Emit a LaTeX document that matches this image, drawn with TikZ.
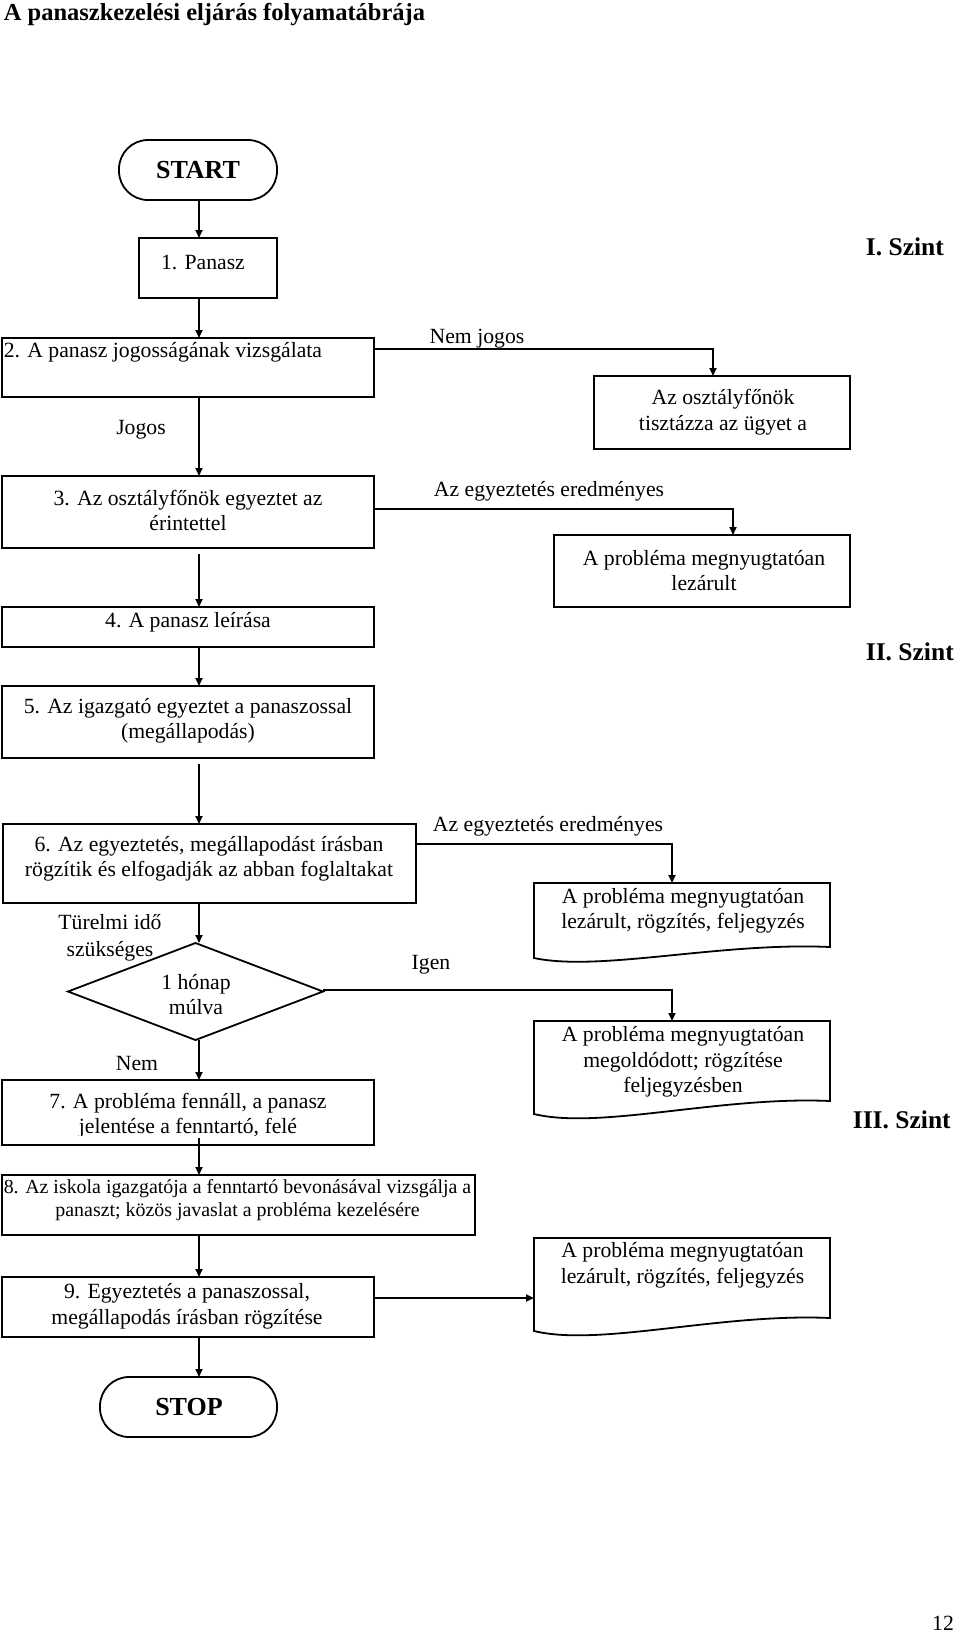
\documentclass[tikz,border=0pt]{standalone}
\usepackage{fontspec}
\setmainfont{Liberation Serif}
\usetikzlibrary{arrows.meta,shapes.geometric}
\newcommand\fsn{\fontsize{21.7}{25.5}\selectfont}
\newcommand\fss{\fontsize{19.9}{23}\selectfont}
\newcommand\fsb{\fontsize{25.5}{30}\selectfont\bfseries}
\newcommand\docshape[2]{\draw (#1.south west) -- (#1.north west) -- (#1.north east) -- ([yshift=#2]#1.south east) .. controls ([shift={(186pt,#2+5pt)}]#1.south west) and ([shift={(66pt,-#2-3pt)}]#1.south west) .. (#1.south west) -- cycle;}
\begin{document}
\begin{tikzpicture}[x=1pt,y=-1pt,line width=1.8pt,
  box/.style={draw,rectangle,inner sep=0pt,outer sep=0pt},
  term/.style={draw,rectangle,rounded corners=29pt,inner sep=0pt,outer sep=0pt},
  ghost/.style={rectangle,inner sep=0pt,outer sep=0pt},
  txt/.style={inner sep=0pt,align=center,font=\fsn},
  lbl/.style={inner sep=0pt,font=\fsn},
  hdr/.style={inner sep=0pt,font=\fsb},
  arr/.style={-{Triangle[length=8pt,width=7pt]},line width=1.8pt}]
\useasboundingbox (0,0) rectangle (960,1634);

% title and levels
\node[hdr,anchor=west,font=\fontsize{24.5}{29}\selectfont\bfseries] (title) at (3,15) {A panaszkezelési eljárás folyamatábrája};
\node[hdr,anchor=west] (sz1) at (865,247) {I. Szint};
\node[hdr,anchor=west] (sz2) at (865,652) {II. Szint};
\node[hdr,anchor=west] (sz3) at (852,1120) {III. Szint};
\node[lbl] (pg) at (943,1623) {12};

% boxes
\node[term,minimum width=158pt,minimum height=60pt] (start) at (198,170) {};
\node[hdr,font=\fontsize{26}{30}\selectfont\bfseries] (tstart) at (198,170) {START};
\node[box,minimum width=138pt,minimum height=60pt] (b1) at (208,268) {};
\node[txt] (t1) at (203,262) {1. Panasz};
\node[box,minimum width=372pt,minimum height=59pt] (b2) at (188,367.5) {};
\node[txt,anchor=west] (t2) at (3,352) {2. A panasz jogosságának vizsgálata};
\node[box,minimum width=256pt,minimum height=73pt] (bA) at (722,412.5) {};
\node[txt] (tA) at (723,412) {Az osztályfőnök\\tisztázza az ügyet a};
\node[box,minimum width=372pt,minimum height=72pt] (b3) at (188,512) {};
\node[txt] (t3) at (188,510.5) {3. Az osztályfőnök egyeztet az\\érintettel};
\node[box,minimum width=296pt,minimum height=72pt] (bB) at (702,571) {};
\node[txt] (tB) at (704,570.5) {A probléma megnyugtatóan\\lezárult};
\node[box,minimum width=372pt,minimum height=40pt] (b4) at (188,627) {};
\node[txt] (t4) at (188,622) {4. A panasz leírása};
\node[box,minimum width=372pt,minimum height=72pt] (b5) at (188,722) {};
\node[txt] (t5) at (188,721) {5. Az igazgató egyeztet a panaszossal\\(megállapodás)};
\node[box,minimum width=413pt,minimum height=79pt] (b6) at (209.5,863.5) {};
\node[txt] (t6) at (209,859) {6. Az egyeztetés, megállapodást írásban\\rögzítik és elfogadják az abban foglaltakat};

\node[ghost,minimum width=296pt,minimum height=75pt] (d1) at (682,920.5) {};
\docshape{d1}{11pt}
\node[txt] (td1) at (683,911) {A probléma megnyugtatóan\\lezárult, rögzítés, feljegyzés};

\node[draw,diamond,minimum width=255pt,minimum height=97pt,inner sep=0pt,outer sep=0pt] (dia) at (195.5,991.5) {};
\node[txt] (tdia) at (196,994.5) {1 hónap\\múlva};

\node[ghost,minimum width=296pt,minimum height=93pt] (d2) at (682,1067.5) {};
\docshape{d2}{13pt}
\node[txt] (td2) at (683,1062) {A probléma megnyugtatóan\\megoldódott; rögzítése\\feljegyzésben};

\node[box,minimum width=372pt,minimum height=65pt] (b7) at (188,1112.5) {};
\begin{scope}
\clip (3,1081) rectangle (373,1135);
\node[txt] (t7) at (188,1115.5) {7. A probléma fennáll, a panasz\\jelentése a fenntartó, felé};
\end{scope}

\node[box,minimum width=473pt,minimum height=60pt] (b8) at (238.5,1205) {};
\node[txt,font=\fss] (t8) at (237.5,1200.5) {8. Az iskola igazgatója a fenntartó bevonásával vizsgálja a\\panaszt; közös javaslat a probléma kezelésére};
\node[box,minimum width=372pt,minimum height=60pt] (b9) at (188,1307) {};
\node[txt] (t9) at (187,1306.5) {9. Egyeztetés a panaszossal,\\megállapodás írásban rögzítése};

\node[ghost,minimum width=296pt,minimum height=93pt] (d3) at (682,1284.5) {};
\docshape{d3}{13pt}
\node[txt] (td3) at (682.5,1265.5) {A probléma megnyugtatóan\\lezárult, rögzítés, feljegyzés};

\node[term,minimum width=177pt,minimum height=60pt] (stop) at (188.5,1407) {};
\node[hdr,font=\fontsize{26}{30}\selectfont\bfseries] (tstop) at (189,1407) {STOP};

% labels
\node[lbl] (lnemjogos) at (477,339) {Nem jogos};
\node[lbl] (ljogos) at (141,430) {Jogos};
\node[lbl] (ler1) at (549,491) {Az egyeztetés eredményes};
\node[lbl] (ler2) at (548,826) {Az egyeztetés eredményes};
\node[txt] (ltur) at (110,937.5) {Türelmi idő\\[1.5pt]szükséges};
\node[lbl] (ligen) at (431,965) {Igen};
\node[lbl] (lnem) at (137,1063) {Nem};

% connectors
\coordinate (sp) at (199,0);
\draw[arr] (start.south -| sp) -- (b1.north -| sp);
\draw[arr] (b1.south -| sp) -- (b2.north -| sp);
\draw[arr] (b2.south -| sp) -- (b3.north -| sp);
\draw[arr,shorten <=6pt] (b3.south -| sp) -- (b4.north -| sp);
\draw[arr] (b4.south -| sp) -- (b5.north -| sp);
\draw[arr,shorten <=6pt] (b5.south -| sp) -- (b6.north -| sp);
\draw[arr] (b6.south -| sp) -- (dia.north -| sp);
\draw[arr] (dia.south -| sp) -- (b7.north -| sp);
\draw[arr,shorten <=-7pt] (b7.south -| sp) -- (b8.north -| sp);
\draw[arr] (b8.south -| sp) -- (b9.north -| sp);
\draw[arr] (b9.south -| sp) -- (stop.north -| sp);

\coordinate (r1) at (713,349);
\draw[arr] (b2.east |- r1) -| (bA.north -| r1);
\coordinate (r2) at (733,509);
\draw[arr] (b3.east |- r2) -| (bB.north -| r2);
\coordinate (r3) at (672,844);
\draw[arr] (b6.east |- r3) -| (d1.north -| r3);
\coordinate (r4) at (672,990);
\draw[arr] (dia.east |- r4) -| (d2.north -| r4);
\coordinate (r5) at (0,1298);
\draw[arr] (b9.east |- r5) -- (d3.west |- r5);
\end{tikzpicture}
\end{document}
